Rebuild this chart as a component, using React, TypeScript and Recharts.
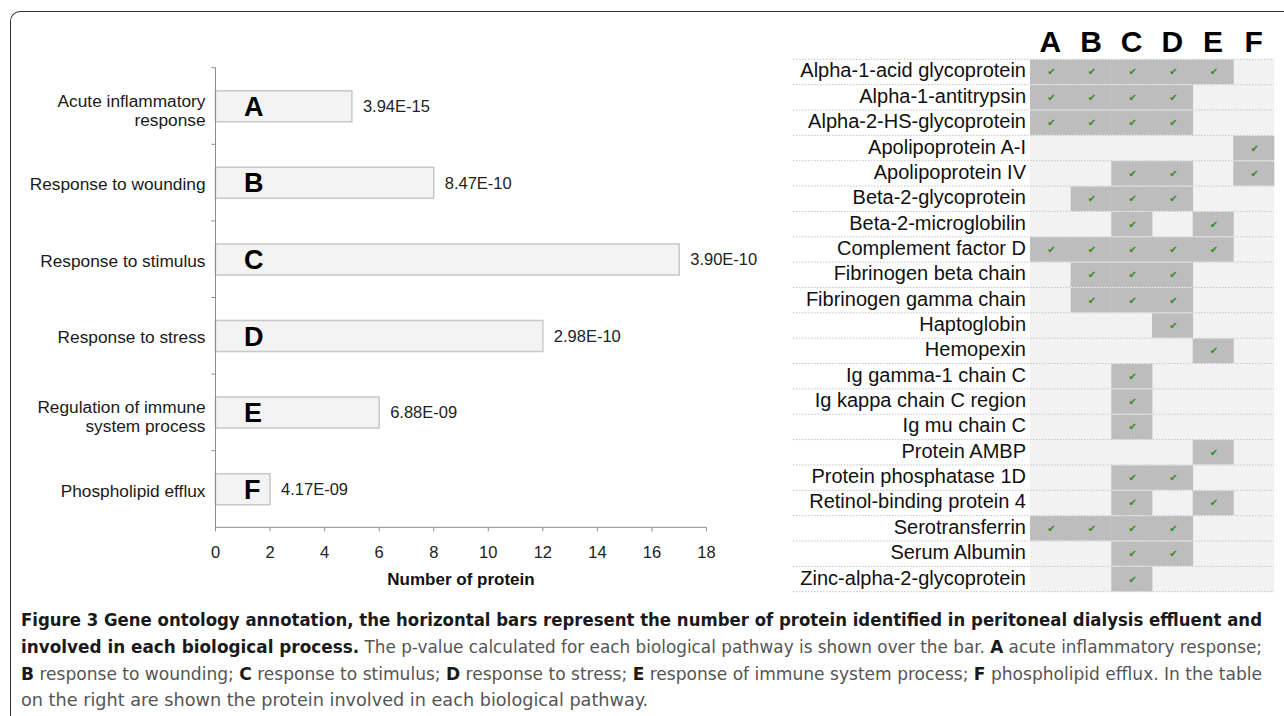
import React from "react";
import {
  BarChart,
  Bar,
  XAxis,
  YAxis,
  LabelList,
  ScatterChart,
  Scatter,
  CartesianGrid,
} from "recharts";

// Left panel: GO biological processes
const processNames = [
  "Acute inflammatory\nresponse",
  "Response to wounding",
  "Response to stimulus",
  "Response to stress",
  "Regulation of immune\nsystem process",
  "Phospholipid efflux",
];
const processLetters = ["A", "B", "C", "D", "E", "F"];
const proteinCounts = [5, 8, 17, 12, 6, 2];
const pValues = ["3.94E-15", "8.47E-10", "3.90E-10", "2.98E-10", "6.88E-09", "4.17E-09"];
const countTicks = [0, 2, 4, 6, 8, 10, 12, 14, 16, 18];

// Right panel: proteins and the processes they belong to
const proteinNames = [
  "Alpha-1-acid glycoprotein",
  "Alpha-1-antitrypsin",
  "Alpha-2-HS-glycoprotein",
  "Apolipoprotein A-I",
  "Apolipoprotein IV",
  "Beta-2-glycoprotein",
  "Beta-2-microglobilin",
  "Complement factor D",
  "Fibrinogen beta chain",
  "Fibrinogen gamma chain",
  "Haptoglobin",
  "Hemopexin",
  "Ig gamma-1 chain C",
  "Ig kappa chain C region",
  "Ig mu chain C",
  "Protein AMBP",
  "Protein phosphatase 1D",
  "Retinol-binding protein 4",
  "Serotransferrin",
  "Serum Albumin",
  "Zinc-alpha-2-glycoprotein",
];
const proteinProcesses = [
  "ABCDE", "ABCD", "ABCD", "F", "CDF", "BCD", "CE", "ABCDE", "BCD", "BCD",
  "D", "E", "C", "C", "C", "E", "CD", "CE", "ABCD", "CD", "C",
];

const FONT = "'Liberation Sans', Arial, Helvetica, sans-serif";
const CAPTION_FONT = "'Liberation Sans Narrow', 'DejaVu Sans Condensed', 'Liberation Sans', sans-serif";
const AXIS = "#8c8c8c";

const barData = processNames.map((name, i) => ({
  name,
  letter: processLetters[i],
  count: proteinCounts[i],
  p: pValues[i],
}));

const cellData = proteinNames.flatMap((_, i) =>
  proteinProcesses[i].split("").map((l) => ({ x: processLetters.indexOf(l), y: i }))
);

const BAND = 459.6 / 6;
const ROW = 532.4 / 21;
const COL = 244 / 6;

const ProcessTick = (props: any) => {
  const { x, y, payload } = props;
  const lines = String(payload.value).split("\n");
  const axisX = x + 10;
  const base = lines.length === 1 ? y + 7.5 : y + 0.7;
  return (
    <g>
      <line x1={axisX - 4} x2={axisX} y1={y - BAND / 2} y2={y - BAND / 2} stroke={AXIS} />
      <text textAnchor="end" fontSize={17.3} fill="#1a1a1a" fontFamily={FONT}>
        {lines.map((l, i) => (
          <tspan key={i} x={x} y={base + i * 19.3}>
            {l}
          </tspan>
        ))}
      </text>
    </g>
  );
};

const HeaderTick = (props: any) => {
  const { x, y, payload } = props;
  return (
    <text x={x} y={y - 7.3} textAnchor="middle" fontSize={30} fontWeight="bold" fill="#000" fontFamily={FONT}>
      {processLetters[payload.value]}
    </text>
  );
};

const ProteinTick = (props: any) => {
  const { x, y, payload } = props;
  const last = payload.value === proteinNames.length - 1;
  return (
    <g>
      <line x1={13} x2={494} y1={y - ROW / 2} y2={y - ROW / 2} stroke="#c4c4c4" strokeDasharray="1.5 1.5" />
      {last && (
        <line x1={13} x2={494} y1={y + ROW / 2} y2={y + ROW / 2} stroke="#c4c4c4" strokeDasharray="1.5 1.5" />
      )}
      <text x={x} y={y + 5.5} textAnchor="end" fontSize={20} fill="#111" fontFamily={FONT}>
        {proteinNames[payload.value]}
      </text>
    </g>
  );
};

const CheckCell = (props: any) => {
  const { cx, cy } = props;
  return (
    <g>
      <rect x={cx - COL / 2} y={cy - ROW / 2 + 0.5} width={COL + 0.4} height={ROW - 1} fill="#bdbdbd" />
      <text x={cx + 1} y={cy + 3.5} textAnchor="middle" fontSize={10} fill="#2f8a1c" fontFamily="DejaVu Sans">
        ✔
      </text>
    </g>
  );
};

export default function App() {
  return (
    <div
      style={{
        position: "absolute",
        left: 0,
        top: 0,
        width: 1284,
        height: 716,
        background: "#fff",
        overflow: "hidden",
        fontFamily: FONT,
      }}
    >
      <div
        style={{
          position: "absolute",
          left: 10,
          top: 11,
          width: 1300,
          height: 730,
          borderTop: "1.5px solid #333",
          borderLeft: "1.5px solid #333",
          borderTopLeftRadius: 10,
        }}
      />

      <div style={{ position: "absolute", left: 0, top: 0 }}>
        <BarChart
          width={790}
          height={600}
          data={barData}
          layout="vertical"
          margin={{ top: 67.7, right: 83.5, left: 15.5, bottom: 12.7 }}
        >
          <XAxis
            type="number"
            domain={[0, 18]}
            ticks={countTicks}
            interval={0}
            height={60}
            tickSize={4}
            tickMargin={14.7}
            stroke={AXIS}
            tick={{ fontSize: 16.5, fill: "#222", fontFamily: FONT }}
            label={{
              value: "Number of protein",
              position: "insideBottom",
              offset: 2.3,
              fontSize: 17,
              fontWeight: "bold",
              fill: "#111",
              fontFamily: FONT,
            }}
          />
          <YAxis
            type="category"
            dataKey="name"
            width={200}
            interval={0}
            tickSize={0}
            tickMargin={10}
            tickLine={false}
            stroke={AXIS}
            tick={<ProcessTick />}
          />
          <Bar dataKey="count" barSize={31} fill="#f3f3f3" stroke="#c8c8c8" strokeWidth={1.5} isAnimationActive={false}>
            <LabelList
              dataKey="letter"
              position="insideLeft"
              offset={28.5}
              fontSize={27}
              fontWeight="bold"
              fill="#000"
              fontFamily={FONT}
            />
            <LabelList dataKey="p" position="right" offset={11} fontSize={16.5} fill="#222" fontFamily={FONT} />
          </Bar>
        </BarChart>
      </div>

      <div style={{ position: "absolute", left: 780, top: 0 }}>
        <ScatterChart width={504} height={600} margin={{ top: 0, right: 10, bottom: 8.3, left: 0 }}>
          <CartesianGrid fill="#f2f2f2" horizontal={false} vertical={false} />
          <XAxis
            type="number"
            dataKey="x"
            orientation="top"
            domain={[-0.5, 5.5]}
            ticks={[0, 1, 2, 3, 4, 5]}
            interval={0}
            height={59.3}
            tickSize={0}
            tickMargin={0}
            axisLine={false}
            tickLine={false}
            tick={<HeaderTick />}
          />
          <YAxis
            type="number"
            dataKey="y"
            reversed
            domain={[-0.5, 20.5]}
            ticks={proteinNames.map((_, i) => i)}
            interval={0}
            width={250}
            tickSize={0}
            tickMargin={4}
            axisLine={false}
            tickLine={false}
            tick={<ProteinTick />}
          />
          <Scatter data={cellData} shape={<CheckCell />} isAnimationActive={false} />
        </ScatterChart>
      </div>

      <svg
        width={1284}
        height={126}
        style={{ position: "absolute", left: 0, top: 590 }}
        fontFamily={CAPTION_FONT}
        fontSize={18}
      >
        <text x={21} y={36} textLength={1241} lengthAdjust="spacingAndGlyphs" fontWeight="bold" fill="#1a1a1a">
          Figure 3 Gene ontology annotation, the horizontal bars represent the number of protein identified in
          peritoneal dialysis effluent and
        </text>
        <text x={21} y={63} textLength={1241} lengthAdjust="spacingAndGlyphs" fill="#555">
          <tspan fontWeight="bold" fill="#1a1a1a">involved in each biological process.</tspan>
          {" The p-value calculated for each biological pathway is shown over the bar. "}
          <tspan fontWeight="bold" fill="#1a1a1a">A</tspan>
          {" acute inflammatory response;"}
        </text>
        <text x={21} y={90} textLength={1241} lengthAdjust="spacingAndGlyphs" fill="#555">
          <tspan fontWeight="bold" fill="#1a1a1a">B</tspan>
          {" response to wounding; "}
          <tspan fontWeight="bold" fill="#1a1a1a">C</tspan>
          {" response to stimulus; "}
          <tspan fontWeight="bold" fill="#1a1a1a">D</tspan>
          {" response to stress; "}
          <tspan fontWeight="bold" fill="#1a1a1a">E</tspan>
          {" response of immune system process; "}
          <tspan fontWeight="bold" fill="#1a1a1a">F</tspan>
          {" phospholipid efflux. In the table"}
        </text>
        <text x={21} y={116} textLength={627} lengthAdjust="spacingAndGlyphs" fill="#555">
          on the right are shown the protein involved in each biological pathway.
        </text>
      </svg>
    </div>
  );
}
